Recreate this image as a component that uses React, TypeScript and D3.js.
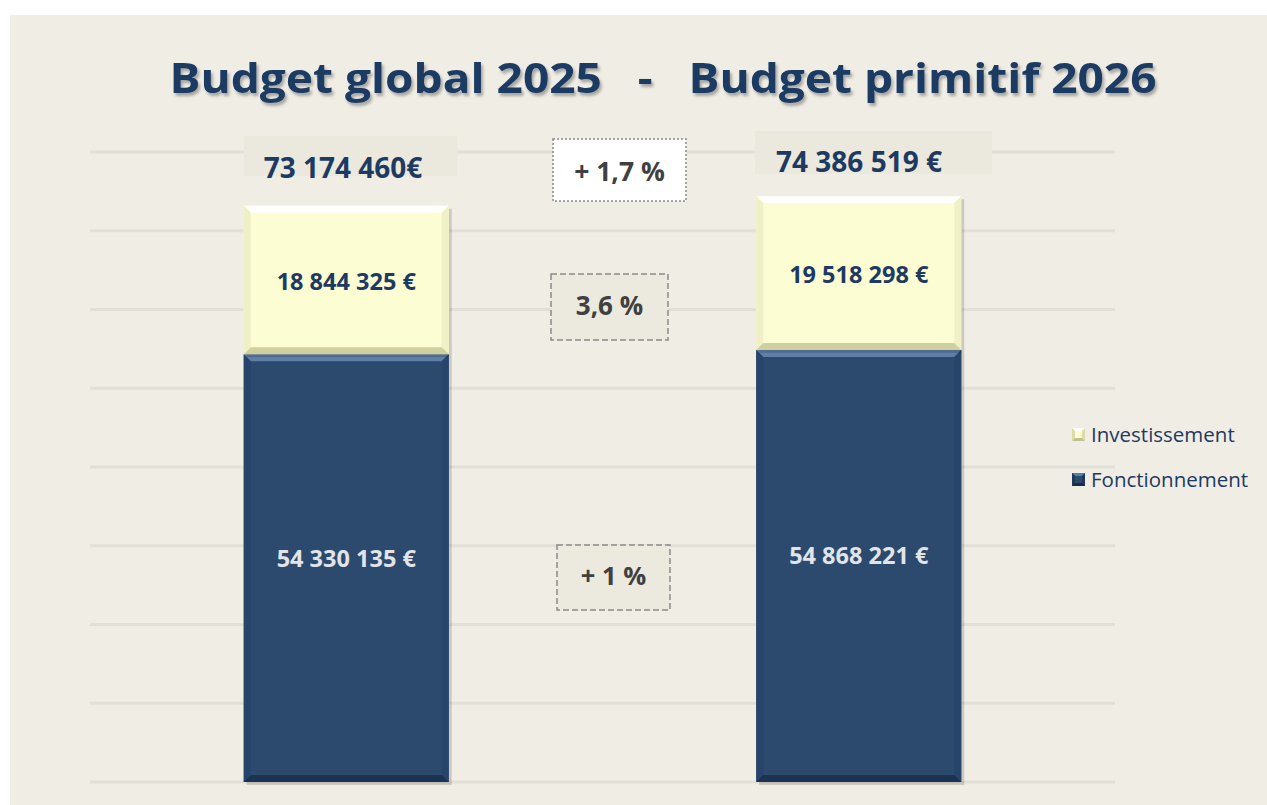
import React from "react";
import * as d3 from "d3";

const categories = ["Budget global 2025", "Budget primitif 2026"];
const fonctionnement = [54330135, 54868221];
const investissement = [18844325, 19518298];
const totalLabels = ["73 174 460€", "74 386 519 €"];
const fonctLabels = ["54 330 135 €", "54 868 221 €"];
const investLabels = ["18 844 325 €", "19 518 298 €"];
const evolTotal = "+ 1,7 %";
const evolInvest = "3,6 %";
const evolFonct = "+ 1 %";
const yTicks = [0, 10e6, 20e6, 30e6, 40e6, 50e6, 60e6, 70e6, 80e6];
const seriesNames = ["Investissement", "Fonctionnement"];

const W = 1267;
const H = 805;
const NAVY = "#1d3a62";
const BAR_NAVY = "#2c4a6e";
const BAR_YELLOW = "#fdfdd3";
const FONT = "'Open Sans', 'DejaVu Sans', sans-serif";

function Bevel({ x, y, w, h, fill, top, side, bottom, b, shadow = true }: any) {
  return (
    <g>
      {shadow && <rect x={x + 3} y={y + 3} width={w} height={h} fill="#000" opacity={0.15} />}
      <rect x={x} y={y} width={w} height={h} fill={fill} />
      <polygon points={`${x},${y} ${x + w},${y} ${x + w - b},${y + b} ${x + b},${y + b}`} fill={top} />
      <polygon points={`${x},${y} ${x + b},${y + b} ${x + b},${y + h - b} ${x},${y + h}`} fill={side} />
      <polygon points={`${x + w},${y} ${x + w - b},${y + b} ${x + w - b},${y + h - b} ${x + w},${y + h}`} fill={side} />
      <polygon points={`${x},${y + h} ${x + b},${y + h - b} ${x + w - b},${y + h - b} ${x + w},${y + h}`} fill={bottom} />
    </g>
  );
}

export default function App() {
  const plotLeft = 90;
  const plotRight = 1115;
  const y = d3.scaleLinear().domain([0, 80e6]).range([782, 152]);
  const x = d3.scaleBand().domain(categories).range([plotLeft, plotRight]).paddingInner(0.6).paddingOuter(0.3);

  const boxes = [
    { label: evolTotal, x: 553, y: 139, w: 133, h: 62, fill: "#ffffff", dash: "2 2", fs: 26.5, base: 181 },
    { label: evolInvest, x: 551, y: 274, w: 117, h: 66, fill: "#ece9df", dash: "6 3", fs: 26, base: 315 },
    { label: evolFonct, x: 557, y: 545, w: 113, h: 65, fill: "#ece9df", dash: "6 3", fs: 25.5, base: 585 },
  ];

  return (
    <svg width={W} height={H} style={{ position: "absolute", left: 0, top: 0 }}>
      <defs>
        <filter id="tshadow" x="-5%" y="-20%" width="110%" height="150%">
          <feDropShadow dx="2" dy="3" stdDeviation="1.5" floodColor="#000" floodOpacity="0.3" />
        </filter>
      </defs>
      <rect x={0} y={0} width={W} height={H} fill="#ffffff" />
      <rect x={10} y={15} width={W - 10} height={H - 15} fill="#f0ede5" />

      {yTicks.map((t) => (
        <line key={t} x1={plotLeft} x2={plotRight} y1={y(t)} y2={y(t)} stroke="#e2dfd7" strokeWidth={3} />
      ))}

      <text
        x={663}
        y={93}
        textAnchor="middle"
        fontFamily={FONT}
        fontWeight={700}
        fontSize={42}
        fill="#1b3a64"
        filter="url(#tshadow)"
        textLength={987}
        lengthAdjust="spacingAndGlyphs"
        style={{ whiteSpace: "pre" }}
      >
        {"Budget global 2025   -   Budget primitif 2026"}
      </text>

      {categories.map((c, i) => {
        const bx = x(c)!;
        const bw = x.bandwidth();
        const y0 = y(0);
        const y1 = y(fonctionnement[i]);
        const y2 = y(fonctionnement[i] + investissement[i]);
        const cx = bx + bw / 2;
        return (
          <g key={c}>
            <Bevel x={bx} y={y1} w={bw} h={y0 - y1} fill={BAR_NAVY} top="#5f7fa9" side="#27446a" bottom="#1c3251" b={7} />
            <Bevel x={bx} y={y2} w={bw} h={y1 - y2} fill={BAR_YELLOW} top="#ffffff" side="#f0f0c6" bottom="#cfcf9f" b={7} />
            <text x={cx} y={(y1 + y2) / 2 + 10} textAnchor="middle" fontFamily={FONT} fontWeight={700} fontSize={23.5} fill={NAVY}>
              {investLabels[i]}
            </text>
            <text x={cx} y={(y0 + y1) / 2 - 1.5} textAnchor="middle" fontFamily={FONT} fontWeight={700} fontSize={23.5} fill="#e2e4e8">
              {fonctLabels[i]}
            </text>
          </g>
        );
      })}

      {/* total labels */}
      <rect x={244} y={136} width={213} height={40} fill="#ebe8de" />
      <text x={343} y={178} textAnchor="middle" fontFamily={FONT} fontWeight={700} fontSize={28} fill={NAVY}>
        {totalLabels[0]}
      </text>
      <rect x={755} y={131} width={237} height={43} fill="#ebe8de" />
      <text x={859} y={172} textAnchor="middle" fontFamily={FONT} fontWeight={700} fontSize={28} fill={NAVY}>
        {totalLabels[1]}
      </text>

      {boxes.map((b) => (
        <g key={b.label}>
          <rect x={b.x} y={b.y} width={b.w} height={b.h} fill={b.fill} stroke="#8a8a8a" strokeWidth={1.5} strokeDasharray={b.dash} />
          <text x={b.x + b.w / 2} y={b.base} textAnchor="middle" fontFamily={FONT} fontWeight={700} fontSize={b.fs} fill="#404040">
            {b.label}
          </text>
        </g>
      ))}

      {/* legend */}
      {seriesNames.map((s, i) => {
        const ly = 428 + i * 45;
        const isInv = i === 0;
        return (
          <g key={s}>
            <Bevel x={1072} y={ly} w={13} h={13} shadow={false} fill={isInv ? BAR_YELLOW : BAR_NAVY} top={isInv ? "#ffffff" : "#5c7ba5"} side={isInv ? "#dcdcaa" : "#1f3858"} bottom={isInv ? "#c0c090" : "#182c48"} b={3} />
            <text x={1091} y={ly + 14} fontFamily={FONT} fontSize={20.5} fill={NAVY}>
              {s}
            </text>
          </g>
        );
      })}
    </svg>
  );
}
